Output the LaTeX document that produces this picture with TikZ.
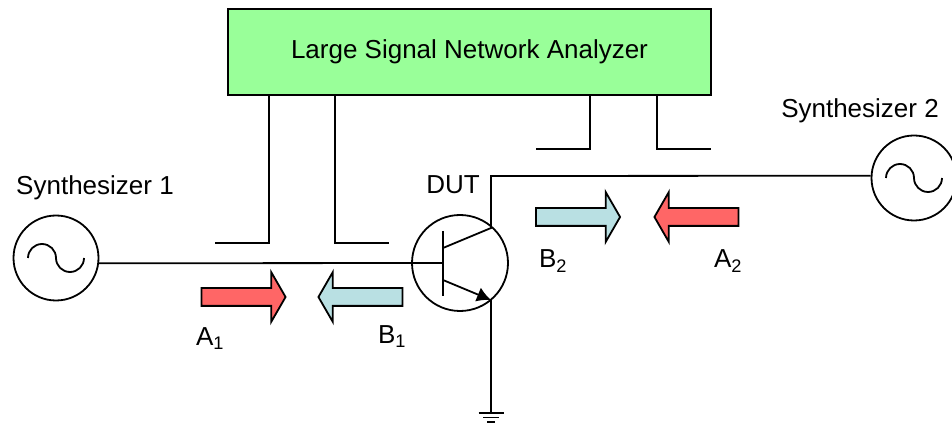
\documentclass[tikz,border=0pt]{standalone}
\usepackage{fontspec}
\setmainfont{Liberation Sans}
\usetikzlibrary{shapes.arrows,arrows.meta}
\definecolor{boxgreen}{HTML}{99FF99}
\definecolor{incident}{HTML}{FF6666}
\definecolor{reflected}{HTML}{B9E0E3}

\begin{document}
\begin{tikzpicture}[x=1pt,y=1pt,line width=1.8pt,
wave/.style={draw,circle,minimum size=85pt,inner sep=0pt},
probe/.style={single arrow,draw,minimum height=84pt,inner sep=8pt,single arrow head extend=16pt,single arrow tip angle=120,single arrow head indent=0pt,outer sep=0pt},
label/.style={inner sep=0pt,font=\fontsize{26}{30}\selectfont}]
\useasboundingbox (0,0) rectangle (952,423);
\node[draw,fill=boxgreen,minimum width=483pt,minimum height=86pt,label](LSNA) at (469.5,371) {Large Signal Network Analyzer};
\node[wave](S1) at (56,165) {};
\node[wave](S2) at (914,245) {};
\node[draw,circle,minimum size=96pt,inner sep=0pt](Q) at (460,160) {};
\foreach \s in {S1,S2} \draw ([xshift=-28pt]\s.center) arc (180:0:14pt) arc (180:360:14pt);
\coordinate (BarT) at (443,192);
\coordinate (BarB) at (443,127);
\coordinate (Base) at (443,160);
\coordinate (CIn) at (443,175);
\coordinate (C) at (491,195);
\coordinate (EIn) at (443,143);
\coordinate (E) at (491,123);
\coordinate (CTop) at (491,247);
\coordinate (G) at (491,10);
\draw (S1.-7) -- (Base);
\draw (BarT) -- (BarB);
\draw (CIn) -- (C) -- (CTop) -- (S2.177);
\draw[-{Latex[length=14pt,width=15pt]}] (EIn) -- (E);
\draw (E) -- (G);
\draw ([xshift=-12.5pt]G) -- ([xshift=12.5pt]G);
\draw ([xshift=-8pt,yshift=-4.5pt]G) -- ([xshift=8pt,yshift=-4.5pt]G);
\draw ([xshift=-4pt,yshift=-9pt]G) -- ([xshift=4pt,yshift=-9pt]G);
\foreach \px/\ex in {269/215,335/389} \draw (\px,328) -- (\px,180) -- (\ex,180);
\foreach \px/\ex in {590/536,657/711} \draw (\px,328) -- (\px,274) -- (\ex,274);
\node[probe,fill=incident](A1) at (241,126) {};
\node[probe,fill=reflected,shape border rotate=180](B1) at (363,126) {};
\node[probe,fill=reflected](B2) at (575.5,206) {};
\node[probe,fill=incident,shape border rotate=180](A2) at (699,206) {};
\node[label](S1L) at (95,235) {Synthesizer 1};
\node[label](S2L) at (860,312) {Synthesizer 2};
\node[label](DUT) at (453,238) {DUT};
\node[label](A1L) at (210,84) {A\textsubscript{1}};
\node[label](B1L) at (392,86) {B\textsubscript{1}};
\node[label](B2L) at (553,162) {B\textsubscript{2}};
\node[label](A2L) at (728,162) {A\textsubscript{2}};
\end{tikzpicture}
\end{document}
